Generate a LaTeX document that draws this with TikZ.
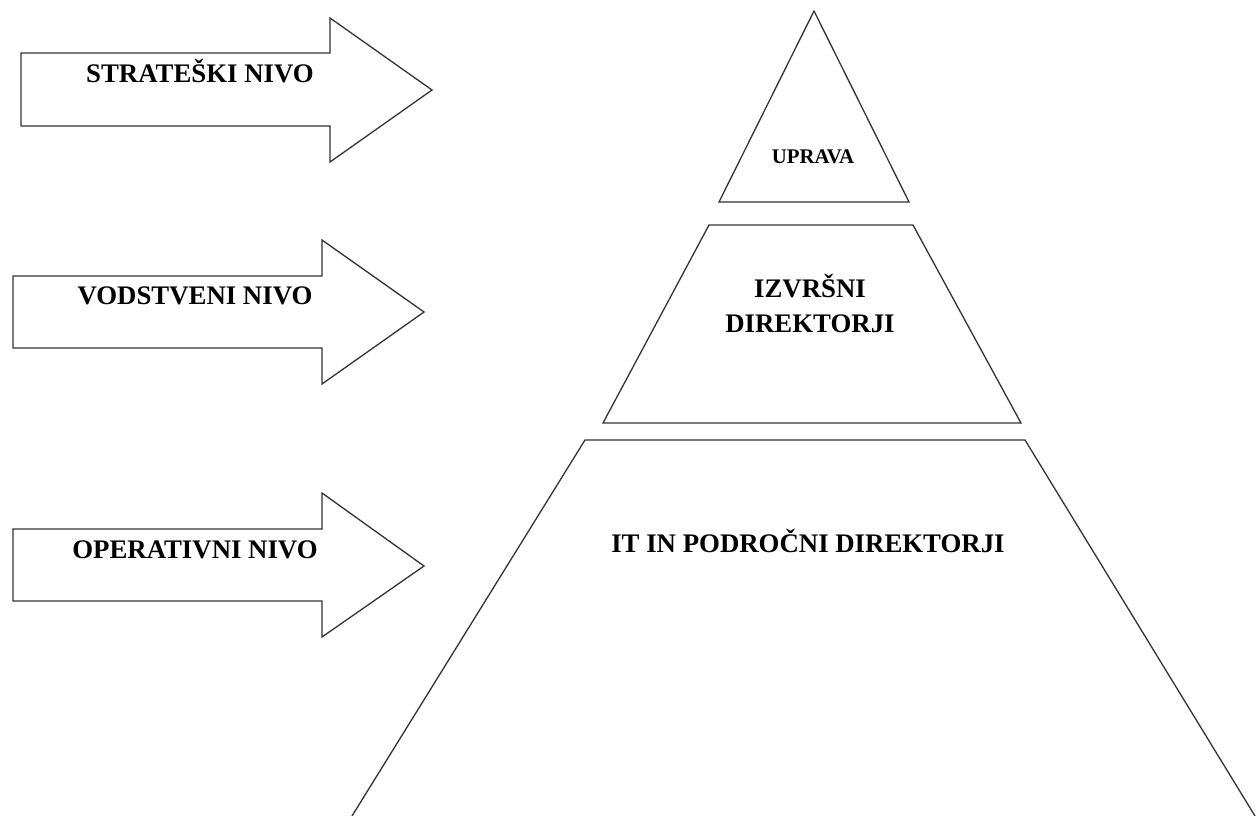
\documentclass[tikz,border=0pt]{standalone}
\usepackage{fontspec}
\setmainfont{Liberation Serif}
\begin{document}
\begin{tikzpicture}[x=1pt,y=-1pt,
  outline/.style={draw=black!80,line width=1.3pt,line join=miter,fill=white},
  label/.style={font=\bfseries\fontsize{26.8}{34}\selectfont,anchor=base,inner sep=0pt},
  smalllabel/.style={font=\bfseries\fontsize{20.8}{26}\selectfont,anchor=base,inner sep=0pt}]
\useasboundingbox (0,0) rectangle (1259,816);

% block arrows pointing at the levels
\draw[outline] (21,53) -- (330,53) -- (330,18) -- (432,90) -- (330,162) -- (330,126) -- (21,126) -- cycle;
\draw[outline] (13,276) -- (322,276) -- (322,240) -- (424,312) -- (322,384) -- (322,348) -- (13,348) -- cycle;
\draw[outline] (13,529) -- (322,529) -- (322,493) -- (424,566) -- (322,637) -- (322,601) -- (13,601) -- cycle;

\node[label] (strat) at (200,82) {STRATEŠKI NIVO};
\node[label] (vodst) at (195,304) {VODSTVENI NIVO};
\node[label] (oper) at (195,558) {OPERATIVNI NIVO};

% pyramid levels
\draw[outline] (814,11) -- (909,202) -- (719,202) -- cycle;
\draw[outline] (709,225) -- (913,225) -- (1021,423) -- (603,423) -- cycle;
\draw[outline] (352,816) -- (585,440) -- (1025,440) -- (1255,816);

\node[smalllabel] (uprava) at (813,163) {UPRAVA};
\node[label] (izv1) at (810,297) {IZVRŠNI};
\node[label] (izv2) at (810,332) {DIREKTORJI};
\node[label] (itin) at (808,552) {IT IN PODROČNI DIREKTORJI};
\end{tikzpicture}
\end{document}
